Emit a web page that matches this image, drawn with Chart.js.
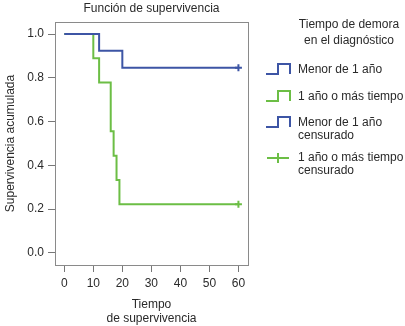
<!DOCTYPE html>
<html>
<head>
<meta charset="utf-8">
<script src="https://cdn.jsdelivr.net/npm/chart.js@4"></script>
<style>
  html, body { margin: 0; padding: 0; background: #fff; }
  #wrap { width: 405px; height: 326px; position: relative; }
</style>
</head>
<body>
<div id="wrap"><canvas id="kmChart" width="405" height="326"></canvas></div>
<script>
// Kaplan-Meier steps
const menorX = [0, 12, 20, 60];
const menorY = [1.0, 0.923, 0.846, 0.846];
const masX = [0, 10, 12, 16, 17, 18, 19, 60];
const masY = [1.0, 0.889, 0.778, 0.556, 0.444, 0.333, 0.222, 0.222];
// censored observations
const menorCensX = [60];
const menorCensY = [0.846];
const masCensX = [60];
const masCensY = [0.222];

const xTicks = [0, 10, 20, 30, 40, 50, 60];
const yTicks = [0.0, 0.2, 0.4, 0.6, 0.8, 1.0];

const chartTitle = 'Función de supervivencia';
const xTitle = ['Tiempo', 'de supervivencia'];
const yTitle = 'Supervivencia acumulada';
const legendTitle = ['Tiempo de demora', 'en el diagnóstico'];
const legendLabels = [['Menor de 1 año'], ['1 año o más tiempo'], ['Menor de 1 año', 'censurado'], ['1 año o más tiempo', 'censurado']];

const blue = '#3d55a5';
const green = '#6cbe45';
const textColor = '#2a2a2a';
const font = '"Liberation Sans", Arial, sans-serif';

const toPoints = (xs, ys) => xs.map((x, i) => ({ x: x, y: ys[i] }));

// box, title and legend drawn on the canvas
const extras = {
  id: 'extras',
  afterDraw(chart) {
    const ctx = chart.ctx;
    const a = chart.chartArea;
    ctx.save();
    ctx.strokeStyle = '#8a8a8a';
    ctx.lineWidth = 1;
    ctx.strokeRect(Math.round(a.left) + 0.5, Math.round(a.top) + 0.5, Math.round(a.right - a.left), Math.round(a.bottom - a.top));

    ctx.fillStyle = textColor;
    ctx.font = '12px ' + font;
    ctx.textAlign = 'center';
    ctx.textBaseline = 'middle';
    ctx.fillText(chartTitle, (a.left + a.right) / 2, 9);

    ctx.fillText(legendTitle[0], 349, 25);
    ctx.fillText(legendTitle[1], 349, 41);

    ctx.textAlign = 'left';
    const rows = [70, 97, 123, 158];
    const colors = [blue, green, blue, green];
    legendLabels.forEach((lines, i) => {
      const y = rows[i];
      lines.forEach((t, j) => ctx.fillText(t, 298, y + j * 13));
      ctx.strokeStyle = colors[i];
      ctx.lineWidth = 2;
      ctx.beginPath();
      if (i < 3) {
        ctx.moveTo(266, y + 4);
        ctx.lineTo(278, y + 4);
        ctx.lineTo(278, y - 6);
        ctx.lineTo(290, y - 6);
        ctx.lineTo(290, y + 4);
      } else {
        ctx.moveTo(267, y);
        ctx.lineTo(289, y);
        ctx.moveTo(278, y - 5);
        ctx.lineTo(278, y + 5);
      }
      ctx.stroke();
    });
    ctx.restore();
  }
};

new Chart(document.getElementById('kmChart'), {
  type: 'line',
  data: {
    datasets: [
      { label: 'Menor de 1 año', data: toPoints(menorX, menorY), borderColor: blue, borderWidth: 2, stepped: 'before', pointRadius: 0, fill: false },
      { label: '1 año o más tiempo', data: toPoints(masX, masY), borderColor: green, borderWidth: 2, stepped: 'before', pointRadius: 0, fill: false },
      { label: 'Menor de 1 año censurado', data: toPoints(menorCensX, menorCensY), showLine: false, pointStyle: 'cross', pointRadius: 3.5, borderColor: blue, pointBorderWidth: 2 },
      { label: '1 año o más tiempo censurado', data: toPoints(masCensX, masCensY), showLine: false, pointStyle: 'cross', pointRadius: 3.5, borderColor: green, pointBorderWidth: 2 }
    ]
  },
  options: {
    responsive: false,
    animation: false,
    layout: { padding: { left: 0, right: 157, top: 22, bottom: 0 } },
    plugins: { legend: { display: false }, tooltip: { enabled: false }, title: { display: false } },
    scales: {
      x: {
        type: 'linear',
        min: -3.2,
        max: 63.3,
        afterFit(s) { s.height = 61; },
        afterBuildTicks(s) { s.ticks = xTicks.map(v => ({ value: v })); },
        grid: { drawOnChartArea: false, drawTicks: true, tickLength: 7, color: '#777' },
        border: { display: false },
        ticks: { color: textColor, font: { family: font, size: 12 }, padding: 4, maxRotation: 0 },
        title: { display: true, text: xTitle, color: textColor, font: { family: font, size: 12 }, padding: { top: 4, bottom: 0 } }
      },
      y: {
        type: 'linear',
        min: -0.056,
        max: 1.055,
        afterFit(s) { s.width = 55; },
        afterBuildTicks(s) { s.ticks = yTicks.map(v => ({ value: v })); },
        grid: { drawOnChartArea: false, drawTicks: true, tickLength: 7, color: '#777' },
        border: { display: false },
        ticks: { color: textColor, font: { family: font, size: 12 }, padding: 4, callback: v => v.toFixed(1) },
        title: { display: true, text: yTitle, color: textColor, font: { family: font, size: 12 }, padding: 3 }
      }
    }
  },
  plugins: [extras]
});
</script>
</body>
</html>
